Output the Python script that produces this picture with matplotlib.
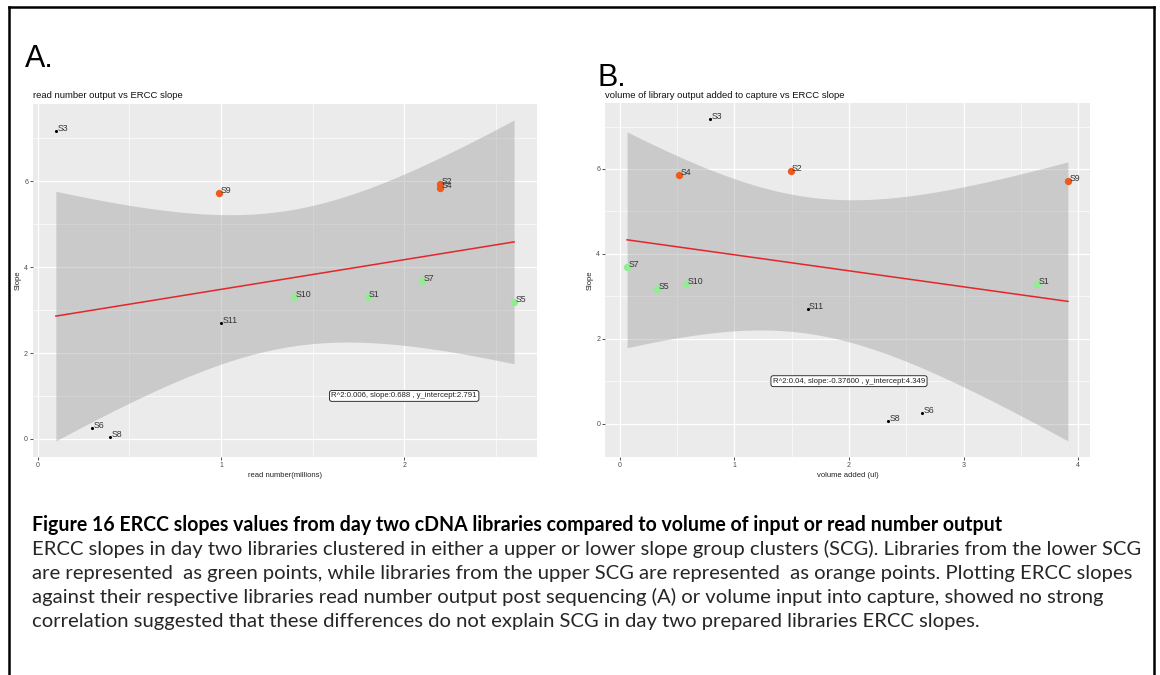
import numpy as np
import matplotlib.pyplot as plt
from matplotlib.ticker import MultipleLocator
from matplotlib.lines import Line2D

# values
samples = ['S1', 'S2', 'S3', 'S4', 'S5', 'S6', 'S7', 'S8', 'S9', 'S10', 'S11']
ercc_slope = [3.30, 5.95, 7.17, 5.85, 3.18, 0.25, 3.68, 0.05, 5.72, 3.30, 2.69]
read_millions = [1.80, 2.197, 0.098, 2.197, 2.60, 0.296, 2.10, 0.396, 0.99, 1.40, 1.00]
volume_ul = [3.64, 1.49, 0.786, 0.52, 0.326, 2.64, 0.064, 2.34, 3.91, 0.58, 1.64]
scg_group = ['lower', 'upper', 'none', 'upper', 'lower', 'none',
             'lower', 'none', 'upper', 'lower', 'none']

label_a = "R^2:0.006, slope:0.688 , y_intercept:2.791"
label_b = "R^2:0.04, slope:-0.37600 , y_intercept:4.349"

caption_title = ("Figure 16 ERCC slopes values from day two cDNA libraries "
                 "compared to volume of input or read number output")
caption_lines = [
    "ERCC slopes in day two libraries clustered in either a upper or lower slope group clusters (SCG). Libraries from the lower SCG",
    "are represented  as green points, while libraries from the upper SCG are represented  as orange points. Plotting ERCC slopes",
    "against their respective libraries read number output post sequencing (A) or volume input into capture, showed no strong",
    "correlation suggested that these differences do not explain SCG in day two prepared libraries ERCC slopes.",
]

T_975_DF9 = 2.262  # t quantile for the 95% band, n = 11

group_style = {
    'upper': dict(color='#EE5A1E', s=28),
    'lower': dict(color='#90EE90', s=28),
    'none': dict(color='black', s=5),
}

plt.rcParams['font.family'] = ['Liberation Sans', 'DejaVu Sans']

fig = plt.figure(figsize=(11.6, 6.75), dpi=100)


def scatter_panel(ax, x, title, xlabel, label_text):
    x = np.asarray(x, dtype=float)
    y = np.asarray(ercc_slope, dtype=float)

    # lm fit with 95% confidence band, like geom_smooth(method = lm)
    b, a = np.polyfit(x, y, 1)
    n = len(x)
    resid = y - (a + b * x)
    s = np.sqrt(np.sum(resid ** 2) / (n - 2))
    sxx = np.sum((x - x.mean()) ** 2)
    xs = np.linspace(x.min(), x.max(), 100)
    yhat = a + b * xs
    se = s * np.sqrt(1 / n + (xs - x.mean()) ** 2 / sxx)
    ax.fill_between(xs, yhat - T_975_DF9 * se, yhat + T_975_DF9 * se,
                    color='#999999', alpha=0.4, lw=0, zorder=2)
    ax.plot(xs, yhat, color='#E3262A', lw=1.1, zorder=3)

    for xi, yi, name, grp in zip(x, y, samples, scg_group):
        st = group_style[grp]
        ax.scatter(xi, yi, color=st['color'], s=st['s'], lw=0, zorder=4)
        ax.annotate(name, (xi, yi), xytext=(1, 1.8), textcoords='offset points',
                    ha='left', va='center', fontsize=6.3, color='#333333', zorder=5)

    ax.text(2, 1, label_text, ha='center', va='center', fontsize=5.6,
            color='#222222', zorder=6,
            bbox=dict(boxstyle='round,pad=0.25,rounding_size=0.3', fc='white',
                      ec='#333333', lw=0.7))

    ax.margins(0.05)
    ax.set_facecolor('#EBEBEB')
    ax.xaxis.set_major_locator(MultipleLocator(1))
    ax.xaxis.set_minor_locator(MultipleLocator(0.5))
    ax.yaxis.set_major_locator(MultipleLocator(2))
    ax.yaxis.set_minor_locator(MultipleLocator(1))
    ax.grid(which='major', color='white', lw=0.9)
    ax.grid(which='minor', color='white', lw=0.45)
    ax.set_axisbelow(True)
    for sp in ax.spines.values():
        sp.set_visible(False)
    ax.tick_params(which='major', length=2, width=0.6, color='#333333',
                   labelsize=5, labelcolor='#4D4D4D', pad=1.5)
    ax.tick_params(which='minor', length=0)
    ax.set_title(title, loc='left', fontsize=6.8, color='#111111', pad=4)
    ax.set_xlabel(xlabel, fontsize=5.5, color='#222222', labelpad=2)
    ax.set_ylabel('Slope', fontsize=5.5, color='#222222', labelpad=2)


ax_a = fig.add_axes([0.0284, 0.323, 0.4345, 0.523])
scatter_panel(ax_a, read_millions, 'read number output vs ERCC slope',
              'read number(millions)', label_a)

ax_b = fig.add_axes([0.5216, 0.323, 0.418, 0.524])
scatter_panel(ax_b, volume_ul, 'volume of library output added to capture vs ERCC slope',
              'volume added (ul)', label_b)

# panel letters
fig.text(25 / 1160, 1 - 67 / 675, 'A.', fontsize=22, va='baseline', ha='left')
fig.text(597 / 1160, 1 - 86 / 675, 'B.', fontsize=22, va='baseline', ha='left')

# caption (Calibri in the original; size fitted to the original line widths)
cap_font = ['Lato', 'DejaVu Sans']
renderer = fig.canvas.get_renderer()
t_title = fig.text(32 / 1160, 1 - 525 / 675, caption_title, fontsize=13, fontweight='bold',
                   family=cap_font, va='center', ha='left', color='black')
w = t_title.get_window_extent(renderer).width
t_title.set_fontsize(13 * 968 / w)

body = []
for i, line in enumerate(caption_lines):
    body.append(fig.text(32 / 1160, 1 - (549 + 24 * i) / 675, line, fontsize=13,
                         family=cap_font, va='center', ha='left', color='#262626'))
w = body[0].get_window_extent(renderer).width
for t in body:
    t.set_fontsize(13 * 1108 / w)

# page border (left, top, right)
fig.add_artist(Line2D([9 / 1160, 9 / 1160], [0, 1 - 7 / 675], transform=fig.transFigure,
                      color='black', lw=1.8))
fig.add_artist(Line2D([9 / 1160, 1154 / 1160], [1 - 7 / 675, 1 - 7 / 675],
                      transform=fig.transFigure, color='black', lw=1.8))
fig.add_artist(Line2D([1154 / 1160, 1154 / 1160], [0, 1 - 7 / 675], transform=fig.transFigure,
                      color='black', lw=1.8))

fig.savefig('out.png', dpi=100)
